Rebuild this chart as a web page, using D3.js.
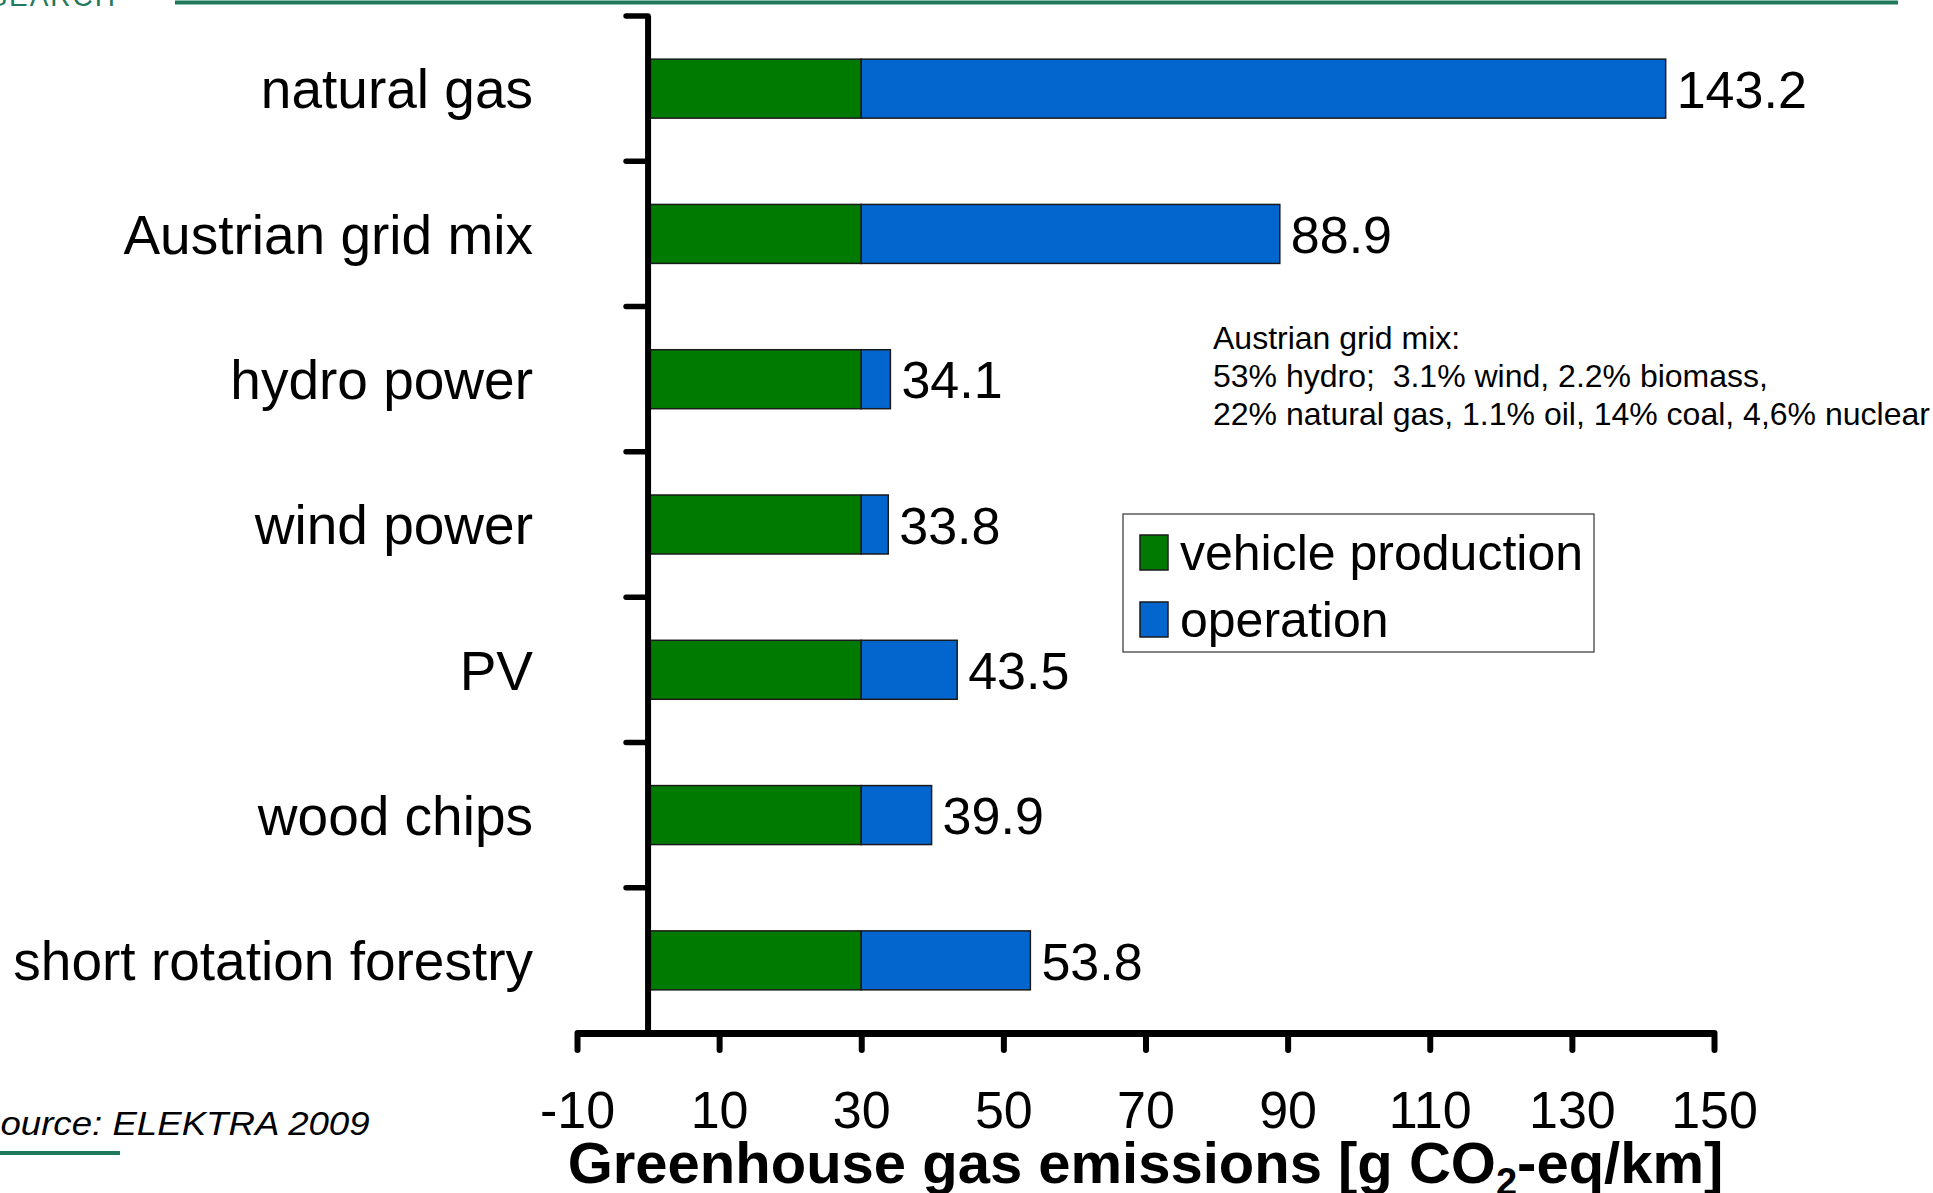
<!DOCTYPE html>
<html>
<head>
<meta charset="utf-8">
<script src="https://cdn.jsdelivr.net/npm/d3@7"></script>
<style>
  html, body { margin: 0; padding: 0; background: #fff; }
  svg { display: block; font-family: "Liberation Sans", Arial, sans-serif; }
  .note { white-space: pre; }
</style>
</head>
<body>
<svg id="chart" width="1933" height="1193"></svg>
<script>
// Life-cycle greenhouse gas emissions of an electric vehicle by electricity source
const categories = ["natural gas", "Austrian grid mix", "hydro power", "wind power", "PV", "wood chips", "short rotation forestry"];
const production = [30, 30, 30, 30, 30, 30, 30];            // vehicle production share
const totals = [143.2, 88.9, 34.1, 33.8, 43.5, 39.9, 53.8];  // production + operation
const xTicks = [-10, 10, 30, 50, 70, 90, 110, 130, 150];
const seriesNames = ["vehicle production", "operation"];
const seriesColors = ["#007a00", "#0366cf"];
const gridMixNote = [
  "Austrian grid mix:",
  "53% hydro;  3.1% wind, 2.2% biomass,",
  "22% natural gas, 1.1% oil, 14% coal, 4,6% nuclear"
];

const svg = d3.select("#chart");
const teal = "#1f7a5c";

const x = d3.scaleLinear().domain([-10, 150]).range([577, 1714]);
const y = d3.scaleBand().domain(categories).range([16, 1033])
  .paddingInner(0.594).paddingOuter(0.297);

// header rule and clipped brand text
svg.append("text").attr("x", 117).attr("y", 5.5).attr("text-anchor", "end")
  .attr("fill", teal).attr("font-size", 28).attr("letter-spacing", 2).text("RESEARCH");
svg.append("rect").attr("x", 175).attr("y", 0.5).attr("width", 1723).attr("height", 4).attr("fill", teal);

// bars: production segment then operation segment
const rows = categories.map((c, i) => ({ c, p: production[i], t: totals[i] }));
const g = svg.append("g");
g.selectAll("rect.prod").data(rows).join("rect").attr("class", "prod")
  .attr("x", x(0)).attr("y", d => y(d.c))
  .attr("width", d => x(d.p) - x(0)).attr("height", y.bandwidth())
  .attr("fill", seriesColors[0]).attr("stroke", "#1a1a1a").attr("stroke-width", 1.5);
g.selectAll("rect.oper").data(rows).join("rect").attr("class", "oper")
  .attr("x", d => x(d.p)).attr("y", d => y(d.c))
  .attr("width", d => x(d.t) - x(d.p)).attr("height", y.bandwidth())
  .attr("fill", seriesColors[1]).attr("stroke", "#1a1a1a").attr("stroke-width", 1.5);

// value labels
g.selectAll("text.val").data(rows).join("text").attr("class", "val")
  .attr("x", d => x(d.t) + 11).attr("y", d => y(d.c) + y.bandwidth() / 2)
  .attr("dy", "0.37em").attr("font-size", 52).attr("fill", "#000")
  .text(d => d.t.toFixed(1));

// category labels
g.selectAll("text.cat").data(categories).join("text").attr("class", "cat")
  .attr("x", 533).attr("y", d => y(d) + y.bandwidth() / 2)
  .attr("dy", "0.36em").attr("text-anchor", "end").attr("font-size", 55).attr("fill", "#000")
  .text(d => d);

// y axis with ticks at category boundaries
const y0 = y.range()[0], y1 = y.range()[1];
const bounds = d3.range(categories.length).map(i => y0 + i * y.step());
svg.append("g").selectAll("line").data(bounds).join("line")
  .attr("x1", x(0) - 22).attr("x2", x(0)).attr("y1", d => d).attr("y2", d => d)
  .attr("stroke", "#000").attr("stroke-width", 5.5).attr("stroke-linecap", "round");
svg.append("line").attr("x1", x(0)).attr("x2", x(0)).attr("y1", y0).attr("y2", y1)
  .attr("stroke", "#000").attr("stroke-width", 6);

// x axis
const xAxis = svg.append("g").attr("transform", `translate(0,${y1})`)
  .call(d3.axisBottom(x).tickValues(xTicks).tickSize(17).tickSizeOuter(0).tickFormat(d => String(d)));
xAxis.select(".domain").attr("stroke", "#000").attr("stroke-width", 7);
xAxis.selectAll(".tick line").attr("stroke", "#000").attr("stroke-width", 6).attr("stroke-linecap", "round");
xAxis.selectAll(".tick text").attr("y", 95).attr("dy", 0)
  .attr("font-size", 52).attr("fill", "#000").attr("font-family", "Liberation Sans, Arial, sans-serif");

// axis title
const title = svg.append("text").attr("x", (x(-10) + x(150)) / 2).attr("y", 1183)
  .attr("text-anchor", "middle").attr("font-size", 58).attr("font-weight", "bold").attr("fill", "#000");
title.append("tspan").text("Greenhouse gas emissions [g CO");
title.append("tspan").attr("font-size", 38).attr("dy", 12).text("2");
title.append("tspan").attr("dy", -12).text("-eq/km]");

// grid mix note
svg.append("g").selectAll("text").data(gridMixNote).join("text").attr("class", "note")
  .attr("x", 1213).attr("y", (d, i) => 349 + i * 38)
  .attr("font-size", 32).attr("fill", "#000").text(d => d);

// legend
const legend = svg.append("g");
legend.append("rect").attr("x", 1123).attr("y", 514).attr("width", 471).attr("height", 138)
  .attr("fill", "#fff").attr("stroke", "#333").attr("stroke-width", 1.2);
const items = legend.selectAll("g.item").data(seriesNames).join("g").attr("class", "item")
  .attr("transform", (d, i) => `translate(1140,${535 + i * 67})`);
items.append("rect").attr("width", 28).attr("height", 35)
  .attr("fill", (d, i) => seriesColors[i]).attr("stroke", "#1a1a1a").attr("stroke-width", 1.5);
items.append("text").attr("x", 40).attr("y", 35).attr("font-size", 50).attr("fill", "#000").text(d => d);

// source note (horizontally widened italic text)
svg.append("text").attr("transform", "translate(-24,1135) scale(1.11,1)")
  .attr("font-size", 33).attr("font-style", "italic")
  .attr("fill", "#000").text("Source: ELEKTRA 2009");
svg.append("rect").attr("x", 0).attr("y", 1151).attr("width", 120).attr("height", 4).attr("fill", teal);
</script>
</body>
</html>
